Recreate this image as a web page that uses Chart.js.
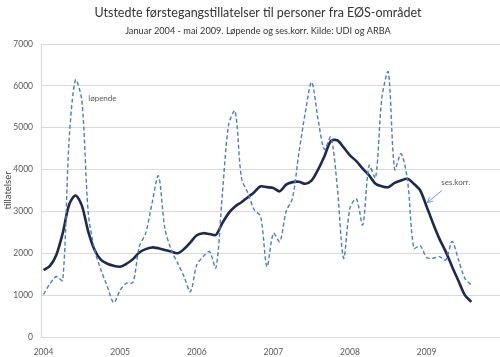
<!DOCTYPE html>
<html>
<head>
<meta charset="utf-8">
<script src="https://cdn.jsdelivr.net/npm/chart.js@4"></script>
<style>
  html, body { margin: 0; padding: 0; background: #ffffff; }
  #wrap { width: 500px; height: 357px; position: relative; }
</style>
</head>
<body>
<div id="wrap"><canvas id="c" width="500" height="357"></canvas></div>
<script>
// Monthly data, January 2004 onwards
const titleText = 'Utstedte førstegangstillatelser til personer fra EØS-området';
const subtitleText = 'Januar 2004 - mai 2009. Løpende og ses.korr. Kilde: UDI og ARBA';
const yearLabels = ['2004', '2005', '2006', '2007', '2008', '2009'];
const lopende = [1020, 1270, 1445, 1350, 4700, 6140, 5650, 2970, 2080, 1600,
                 1200, 820, 1120, 1285, 1300, 2160, 2480, 3200, 3850, 2600,
                 2080, 1770, 1450, 1080, 1720, 1920, 2040, 1650, 3400, 5080,
                 5400, 3800, 3440, 3040, 2880, 1680, 2480, 2280, 3000, 3320,
                 4400, 5360, 6090, 5200, 4480, 4780, 3600, 1880, 3080, 3300,
                 2680, 4100, 3800, 5720, 6330, 4000, 4380, 3760, 2120, 2180,
                 1900, 1880, 1920, 1840, 2280, 1840, 1400, 1240];
const sesKorr = [1600, 1700, 1960, 2480, 3160, 3380, 3140, 2520, 2080, 1840,
                 1750, 1700, 1680, 1750, 1860, 2020, 2100, 2140, 2120, 2080,
                 2040, 2000, 2100, 2260, 2430, 2480, 2460, 2440, 2720, 2960,
                 3120, 3220, 3340, 3460, 3600, 3580, 3560, 3480, 3640, 3700,
                 3710, 3660, 3740, 4000, 4320, 4680, 4700, 4530, 4340, 4200,
                 4020, 3860, 3660, 3600, 3580, 3680, 3740, 3780, 3660, 3500,
                 3120, 2720, 2350, 2040, 1680, 1340, 1000, 840];
const yTicks = [0, 1000, 2000, 3000, 4000, 5000, 6000, 7000];

const FONT = 'Lato, "Open Sans", sans-serif';
const toXY = arr => arr.map((v, i) => ({ x: i, y: v }));

const annotations = {
  id: 'annotations',
  afterDatasetsDraw(chart) {
    const { ctx, chartArea, scales: { x, y } } = chart;
    // titles
    ctx.save();
    ctx.fillStyle = '#333333';
    ctx.textAlign = 'center';
    ctx.textBaseline = 'middle';
    ctx.font = '12.5px ' + FONT;
    ctx.fillText(titleText, 258, 13);
    ctx.font = '9.2px ' + FONT;
    ctx.fillText(subtitleText, 258, 31);
    ctx.restore();

    // y axis title
    ctx.save();
    ctx.fillStyle = '#404040';
    ctx.font = '9.5px ' + FONT;
    ctx.textAlign = 'center';
    ctx.textBaseline = 'middle';
    ctx.translate(8, (chartArea.top + chartArea.bottom) / 2);
    ctx.rotate(-Math.PI / 2);
    ctx.fillText('tillatelser', 0, 0);
    ctx.restore();

    ctx.save();
    ctx.fillStyle = '#595959';
    ctx.font = '8px ' + FONT;
    ctx.textBaseline = 'middle';
    ctx.textAlign = 'left';
    ctx.fillText('løpende', x.getPixelForValue(7.0), y.getPixelForValue(5700));
    ctx.fillText('ses.korr.', x.getPixelForValue(62.3), y.getPixelForValue(3700));
    // arrow
    const x1 = x.getPixelForValue(62.4), y1 = y.getPixelForValue(3500);
    const x2 = x.getPixelForValue(60.1), y2 = y.getPixelForValue(3210);
    ctx.strokeStyle = '#6f9ad8';
    ctx.lineWidth = 1;
    ctx.beginPath();
    ctx.moveTo(x1, y1);
    ctx.lineTo(x2, y2);
    const ang = Math.atan2(y2 - y1, x2 - x1);
    const L = 6;
    ctx.moveTo(x2, y2);
    ctx.lineTo(x2 - L * Math.cos(ang - 0.45), y2 - L * Math.sin(ang - 0.45));
    ctx.moveTo(x2, y2);
    ctx.lineTo(x2 - L * Math.cos(ang + 0.45), y2 - L * Math.sin(ang + 0.45));
    ctx.stroke();
    ctx.restore();
  }
};

new Chart(document.getElementById('c'), {
  type: 'line',
  data: {
    datasets: [
      {
        label: 'løpende',
        data: toXY(lopende),
        borderColor: '#4a7cc7',
        borderWidth: 1.4,
        borderDash: [4, 2.5],
        pointRadius: 0,
        tension: 0.3,
        fill: false
      },
      {
        label: 'ses.korr.',
        data: toXY(sesKorr),
        borderColor: '#1f2a4a',
        borderWidth: 2.6,
        pointRadius: 0,
        tension: 0.3,
        fill: false
      }
    ]
  },
  options: {
    responsive: false,
    animation: false,
    layout: { padding: { left: 0, right: 0, top: 44, bottom: 0 } },
    plugins: {
      legend: { display: false },
      tooltip: { enabled: false },
      title: { display: false },
      subtitle: { display: false }
    },
    scales: {
      x: {
        type: 'linear',
        min: -0.4,
        max: 71.5,
        grid: { display: false, drawTicks: false },
        border: { display: true, color: '#d9d9d9', width: 1 },
        afterBuildTicks: s => { s.ticks = yearLabels.map((_, k) => ({ value: k * 12 })); },
        afterFit: s => { s.height = 20; },
        ticks: {
          autoSkip: false,
          maxRotation: 0,
          padding: 10,
          color: '#595959',
          font: { family: FONT, size: 8.5 },
          callback: v => yearLabels[Math.round(v / 12)]
        }
      },
      y: {
        min: 0,
        max: 7000,
        afterBuildTicks: s => { s.ticks = yTicks.map(v => ({ value: v })); },
        afterFit: s => { s.width = 41; },
        grid: { color: '#d9d9d9', lineWidth: 1, drawTicks: false },
        border: { display: true, color: '#d9d9d9', width: 1 },
        ticks: {
          padding: 8,
          color: '#595959',
          font: { family: FONT, size: 8.5 },
          callback: v => String(v)
        }
      }
    }
  },
  plugins: [annotations]
});
</script>
</body>
</html>
